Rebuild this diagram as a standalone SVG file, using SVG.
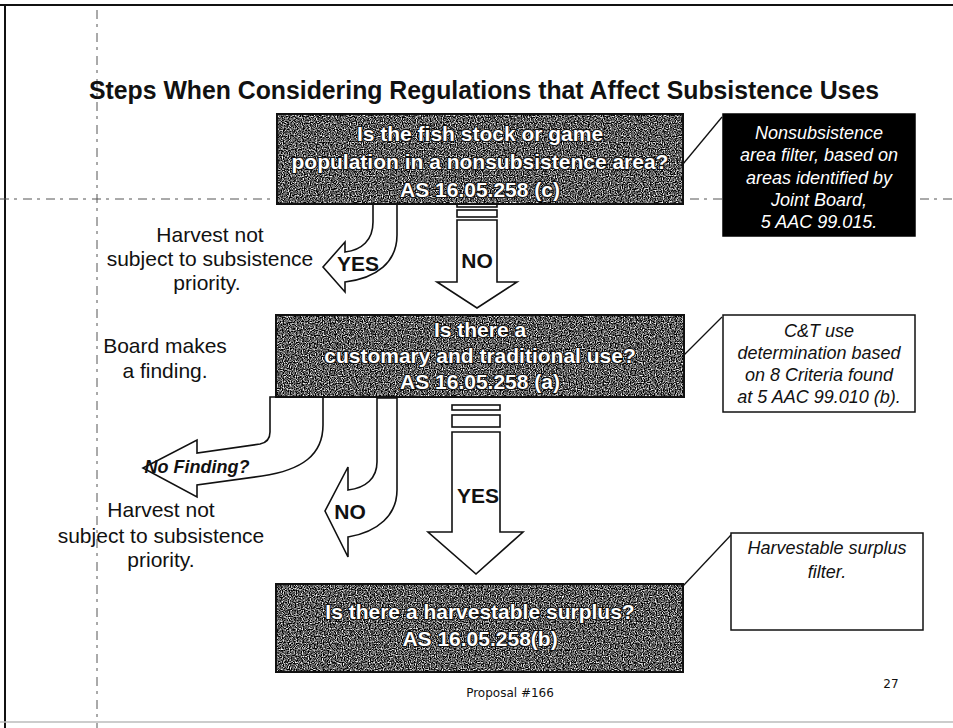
<svg xmlns="http://www.w3.org/2000/svg" width="953" height="728" viewBox="0 0 953 728">
  <defs>
    <filter id="grain" x="0" y="0" width="100%" height="100%" color-interpolation-filters="sRGB">
      <feTurbulence type="fractalNoise" baseFrequency="0.85" numOctaves="1" seed="4" result="t"/>
      <feColorMatrix in="t" type="matrix" values="2.6 0 0 0 -0.95  2.6 0 0 0 -0.95  2.6 0 0 0 -0.95  0 0 0 0 1"/>
    </filter>
  </defs>
  <style>
    .frame { stroke: #111; stroke-width: 2; fill: none; }
    .scan { stroke: #555; stroke-width: 1; fill: none; stroke-dasharray: 9 5 3 6; }
    .qbg { fill: #444; }
    .qbox { fill: none; stroke: #111; stroke-width: 2; }
    .qtext { font-family: "Liberation Sans", Arial, sans-serif; font-weight: bold; font-size: 21px; fill: #fff; stroke: #111; stroke-width: 2; paint-order: stroke; text-anchor: middle; }
    .note { font-family: "Liberation Sans", Arial, sans-serif; font-style: italic; font-size: 18px; text-anchor: middle; }
    .side { font-family: "Liberation Sans", Arial, sans-serif; font-size: 21px; fill: #111; text-anchor: middle; }
    .arrow { fill: #fff; stroke: #111; stroke-width: 1.6; stroke-linejoin: miter; }
    .lbl { font-family: "Liberation Sans", Arial, sans-serif; font-weight: bold; font-size: 21px; fill: #111; text-anchor: middle; }
    .leader { stroke: #111; stroke-width: 1.3; fill: none; }
    .foot { font-family: "DejaVu Sans", Tahoma, sans-serif; font-size: 12px; fill: #111; text-anchor: middle; }
  </style>

  <rect x="0" y="0" width="953" height="728" fill="#fff"/>

  <!-- page frame / scan artefacts -->
  <g id="frame">
    <line class="frame" x1="0" y1="5" x2="953" y2="5"/>
    <line class="frame" x1="5" y1="5" x2="5" y2="728"/>
    <line x1="0" y1="722" x2="953" y2="722" stroke="#bbb" stroke-width="1.5"/>
    <line class="scan" x1="97" y1="10" x2="97" y2="728" stroke-dasharray="14 3 2 3"/>
    <line class="scan" x1="0" y1="199" x2="953" y2="199"/>
  </g>

  <text id="title" x="484" y="99" font-family="'Liberation Sans', Tahoma, sans-serif" font-weight="bold" font-size="25" fill="#111" text-anchor="middle" textLength="790" lengthAdjust="spacingAndGlyphs">Steps When Considering Regulations that Affect Subsistence Uses</text>

  <!-- connectors -->
  <g id="connectors">
    <!-- leaders to side notes -->
    <line class="leader" x1="683" y1="164" x2="722" y2="117"/>
    <line class="leader" x1="683" y1="356" x2="722" y2="317"/>
    <line class="leader" x1="683" y1="586" x2="731" y2="535"/>

    <!-- YES curved arrow from box 1 -->
    <path class="arrow" d="M373,204 L373,222 C373,240 362,250 345,252 L345,242 L323,267 L345,292 L345,282 C377,278 397,262 397,235 L397,204 Z"/>
    <text class="lbl" x="358" y="271">YES</text>

    <!-- NO straight arrow from box 1 -->
    <rect class="arrow" x="457" y="204" width="40" height="3"/>
    <rect class="arrow" x="457" y="210" width="40" height="7"/>
    <path class="arrow" d="M457,220 L497,220 L497,282 L517,282 L477,308 L437,282 L457,282 Z"/>
    <text class="lbl" x="477" y="268">NO</text>

    <!-- No Finding? curved arrow from box 2 -->
    <path class="arrow" d="M270,397 L270,432 Q270,442 260,444 L197,453 L197,440 L143,468 L197,497 L197,485 L262,476 C302,470 323,455 323,425 L323,397 Z"/>
    <text x="197" y="473" font-family="'Liberation Sans', Arial, sans-serif" font-weight="bold" font-style="italic" font-size="18" fill="#111" text-anchor="middle">No Finding?</text>

    <!-- NO curved arrow from box 2 -->
    <path class="arrow" d="M377,398 L377,462 C377,478 366,488 348,490 L348,467 L325,511 L348,557 L348,537 C378,532 397,515 397,490 L397,398 Z"/>
    <text class="lbl" x="350" y="519">NO</text>

    <!-- YES straight arrow from box 2 -->
    <rect class="arrow" x="452" y="405" width="48" height="5"/>
    <rect class="arrow" x="452" y="415" width="48" height="12"/>
    <path class="arrow" d="M452,432 L500,432 L500,532 L523,532 L476,574 L428,532 L452,532 Z"/>
    <text class="lbl" x="478" y="503">YES</text>
  </g>

  <!-- question boxes -->
  <g id="q1">
    <rect class="qbg" x="277" y="114" width="406" height="90" filter="url(#grain)"/>
    <rect class="qbox" x="277" y="114" width="406" height="90"/>
    <text class="qtext" x="480" y="141">Is the fish stock or game</text>
    <text class="qtext" x="480" y="169">population in a nonsubsistence area?</text>
    <text class="qtext" x="480" y="197">AS 16.05.258 (c)</text>
  </g>

  <g id="q2">
    <rect class="qbg" x="276" y="315" width="408" height="82" filter="url(#grain)"/>
    <rect class="qbox" x="276" y="315" width="408" height="82"/>
    <text class="qtext" x="480" y="337">Is there a</text>
    <text class="qtext" x="480" y="363">customary and traditional use?</text>
    <text class="qtext" x="480" y="389">AS 16.05.258 (a)</text>
  </g>

  <g id="q3">
    <rect class="qbg" x="276" y="584" width="407" height="88" filter="url(#grain)"/>
    <rect class="qbox" x="276" y="584" width="407" height="88"/>
    <text class="qtext" x="480" y="619">Is there a harvestable surplus?</text>
    <text class="qtext" x="480" y="646">AS 16.05.258(b)</text>
  </g>

  <!-- side notes -->
  <g id="note1">
    <rect x="723" y="114" width="192" height="122" fill="#000" stroke="#000" stroke-width="1.5"/>
    <text class="note" fill="#fff" x="819" y="139">Nonsubsistence</text>
    <text class="note" fill="#fff" x="819" y="161">area filter, based on</text>
    <text class="note" fill="#fff" x="819" y="184">areas identified by</text>
    <text class="note" fill="#fff" x="819" y="206">Joint Board,</text>
    <text class="note" fill="#fff" x="819" y="228">5 AAC 99.015.</text>
  </g>

  <g id="note2">
    <rect x="723" y="315" width="192" height="97" fill="#fff" stroke="#111" stroke-width="1.5"/>
    <text class="note" fill="#111" x="819" y="337">C&amp;T use</text>
    <text class="note" fill="#111" x="819" y="359">determination based</text>
    <text class="note" fill="#111" x="819" y="381">on 8 Criteria found</text>
    <text class="note" fill="#111" x="819" y="403">at 5 AAC 99.010 (b).</text>
  </g>

  <g id="note3">
    <rect x="731" y="533" width="192" height="97" fill="#fff" stroke="#111" stroke-width="1.5"/>
    <text class="note" fill="#111" x="827" y="554">Harvestable surplus</text>
    <text class="note" fill="#111" x="827" y="578">filter.</text>
  </g>

  <!-- side texts -->
  <g id="side1">
    <text class="side" x="210" y="242">Harvest not</text>
    <text class="side" x="210" y="266">subject to subsistence</text>
    <text class="side" x="207" y="290">priority.</text>
  </g>
  <g id="side2">
    <text class="side" x="165" y="353">Board makes</text>
    <text class="side" x="165" y="378">a finding.</text>
  </g>
  <g id="side3">
    <text class="side" x="161" y="517">Harvest not</text>
    <text class="side" x="161" y="543">subject to subsistence</text>
    <text class="side" x="161" y="567">priority.</text>
  </g>

  <text id="footer" class="foot" x="510" y="697">Proposal #166</text>
  <text id="page" class="foot" x="891" y="688">27</text>
</svg>
